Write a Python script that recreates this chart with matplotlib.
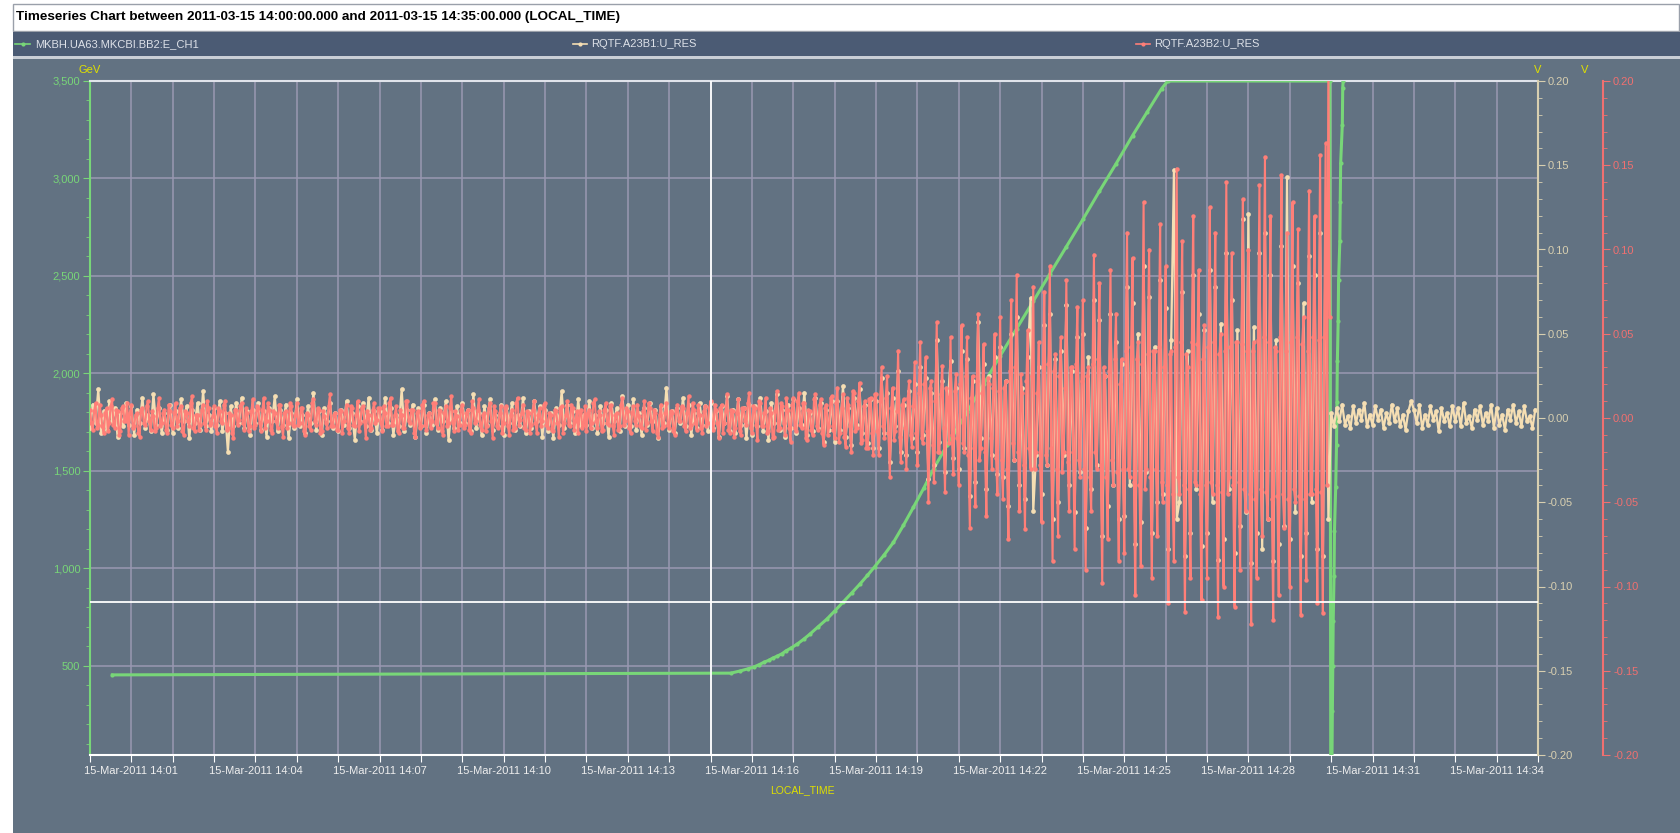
import numpy as np
import pandas as pd
import matplotlib
matplotlib.use("Agg")
import matplotlib.pyplot as plt
from matplotlib.ticker import MultipleLocator, FuncFormatter
from matplotlib.patches import Rectangle
from matplotlib.lines import Line2D
from matplotlib.transforms import blended_transform_factory
import matplotlib.dates as mdates

plt.rcParams['font.family'] = ['Liberation Sans', 'DejaVu Sans']

title = "Timeseries Chart between 2011-03-15 14:00:00.000 and 2011-03-15 14:35:00.000 (LOCAL_TIME)"
names = ["MKBH.UA63.MKCBI.BB2:E_CH1", "RQTF.A23B1:U_RES", "RQTF.A23B2:U_RES"]
t_start = pd.Timestamp("2011-03-15 14:00:00")
t_end = pd.Timestamp("2011-03-15 14:35:00")

# beam energy, minutes after 14:00 / GeV
e_min = [0.54, 15.49, 15.71, 15.90, 16.05, 16.18, 16.29, 16.41, 16.50, 16.61, 16.73, 16.82, 16.94,
         17.10, 17.25, 17.40, 17.60, 17.81, 18.01, 18.21, 18.41, 18.61, 18.79, 18.97, 19.20, 19.42,
         19.66, 19.90, 20.15, 20.39, 20.71, 21.20, 21.60, 22.00, 22.40, 22.80, 23.20, 23.60, 24.00,
         24.40, 24.80, 25.20, 25.55, 25.90, 26.05, 29.97, 29.99, 30.02, 30.03, 30.04, 30.05, 30.07,
         30.08, 30.11, 30.13, 30.14, 30.15, 30.17, 30.18, 30.21, 30.22, 30.23, 30.27, 30.28, 30.29]
e_gev = [453, 462, 473, 484, 494, 506, 518, 528, 539, 549, 562, 576, 590,
         612, 636, 662, 700, 739, 783, 828, 873, 919, 963, 1009, 1070, 1133,
         1220, 1312, 1410, 1510, 1630, 1800, 1945, 2090, 2230, 2370, 2510, 2650, 2790,
         2935, 3075, 3220, 3340, 3460, 3500, 3500, 20, 20, 270, 500, 732, 962,
         1190, 1415, 1635, 1851, 2061, 2269, 2477, 2680, 2880, 3079, 3275, 3466, 3500]

# RQTF.A23B2:U_RES, one sample every 2 s from 14:00:00, mV, one row per minute
b2_mv = [
    [5, -3, -7, 4, 9, -6, -4, 8, 2, -5, -9, 3, 6, -8, -3, 7, 11, -4, -6, 5, 4, -10, -8, 6, 7, -2, -2, 9, -10, 3],
    [8, -6, -5, 2, 3, -9, -11, 5, 6, -3, -4, 7, 10, -2, -7, 4, 1, -8, -6, 6, 12, -5, -3, 3, 5, -7, -9, 8, 4, -4],
    [-6, 3, 9, -5, -2, 6, 7, -8, -10, 4, 3, -2, -5, 9, 13, -6, -8, 2, 2, -7, -4, 5, 8, -3, -7, 10, 6, -4, -3, 1],
    [7, -5, -9, 6, 4, -2, -3, 8, 10, -7, -6, 3, 2, -9, -12, 5, 5, -4, -1, 7, 9, -3, -7, 6, 3, -8, -5, 4, 11, -6],
    [-4, 7, 6, -3, -8, 5, 12, -6, -2, 9, 5, -7, -9, 4, 3, -2, -6, 8, 8, -5, -11, 3, 4, -6, -3, 9, 7, -4, -5, 2],
    [9, -4, -3, 6, 6, -8, -10, 3, 2, -5, -7, 9, 11, -2, -4, 6, 5, -9, -8, 4, 1, -3, -6, 7, 14, -5, -5, 2, 3, -7],
    [-7, 5, 4, -9, -2, 3, 8, -6, -9, 7, 6, -4, -5, 2, 10, -8, -3, 6, 7, -2, -12, 4, 2, -7, -6, 5, 9, -3, -1, 6],
    [6, -3, -8, 7, 3, -5, -5, 9, 12, -4, -4, 2, 7, -8, -9, 5, 2, -6, -6, 10, 10, -2, -3, 5, 5, -9, -11, 3, 4, -6],
    [-5, 8, 10, -4, -7, 2, 3, -6, -2, 9, 9, -3, -6, 5, 4, -8, -10, 3, 7, -5, -3, 6, 13, -2, -8, 4, 1, -7, -4, 5],
    [8, -6, -4, 3, 5, -7, -9, 10, 6, -3, -2, 5, 11, -4, -7, 2, 3, -8, -5, 6, 9, -2, -12, 7, 4, -5, -6, 3, 7, -9],
    [-3, 6, 7, -5, -10, 2, 5, -7, -6, 9, 12, -4, -1, 3, 8, -6, -7, 4, 3, -9, -4, 5, 10, -3, -9, 2, 6, -5, -2, 8],
    [9, -4, -6, 3, 2, -7, -8, 5, 4, -3, -11, 6, 7, -9, -3, 2, 10, -4, -5, 8, 6, -7, -2, 4, -9, 3, 5, -6, -4, 7],
    [-8, 3, 5, -6, -3, 9, 11, -2, -6, 4, 2, -8, -7, 5, 9, -3, -4, 7, 8, -5, -10, 2, 3, -7, -5, 8, 12, -4, -2, 6],
    [4, -6, -9, 3, 7, -2, -4, 8, 1, -5, -6, 4, 10, -7, -3, 9, 6, -2, -8, 5, 3, -9, -11, 2, 8, -6, -5, 3, 9, -4],
    [-6, 4, 3, -8, -10, 5, 8, -2, -2, 7, 6, -5, -8, 3, 13, -6, -4, 9, 5, -3, -7, 8, 2, -6, -9, 4, 7, -5, -3, 6],
    [10, -5, -7, 8, 5, -3, -12, 6, 8, -9, -3, 4, 14, -7, -9, 5, 4, -11, -6, 3, 11, -8, -10, 6, 6, -2, -4, 9, 15, -6],
    [-9, 7, 6, -4, -13, 10, 9, -5, -5, 3, 12, -9, -8, 6, 3, -12, -11, 4, 16, -7, -6, 9, 7, -3, -10, 12, 5, -6, -14, 8],
    [12, -6, -8, 10, 15, -4, -6, 9, 9, -12, -13, 5, 4, -7, -10, 11, 14, -5, -7, 8, 11, -9, -16, 6, 8, -10, -5, 12, 13, -7],
    [-12, 9, 18, -14, -9, 6, 14, -11, -17, 12, 8, -5, -20, 16, 15, -8, -6, 10, 21, -15, -13, 7, 10, -18, -18, 11, 12, -9, -22, 14],
    [14, -8, -22, 10, 30, -5, -12, 12, 25, -9, -35, 6, 18, -13, -8, 4, 40, -11, -26, 8, 11, -6, -30, 12, 22, -10, -17, 7, 33, -9],
    [-28, 15, 45, -12, -15, 20, 36, -8, -50, 18, 22, -16, -38, 10, 57, -20, -20, 14, 31, -6, -44, 18, 12, -15, 48, -10, -33, 16, 26, -12],
    [-40, 20, 55, -15, -20, 25, 48, -22, -65, 12, 25, -18, -52, 22, 62, -25, -18, 15, 44, -20, -58, 24, 20, -12, -30, 18, 50, -24, -45, 16],
    [60, -25, -48, 18, 22, -30, -72, 28, 70, -15, -25, 30, 85, -20, -55, 26, 15, -28, -66, 22, 52, -18, -30, 25, 78, -30, -20, 15, 45, -28],
    [-62, 30, 75, -22, -28, 32, 90, -18, -85, 28, 38, -30, -70, 25, 48, -32, -20, 18, 82, -26, -55, 30, 30, -20, -78, 32, 66, -25, -35, 22],
    [70, -30, -90, 25, 30, -35, -55, 32, 97, -20, -30, 35, 80, -28, -98, 30, 25, -35, -72, 28, 88, -25, -40, 35, 62, -32, -85, 20, 35, -30],
    [-80, 40, 110, -30, -35, 42, 95, -38, -105, 35, 45, -40, -88, 32, 128, -42, -30, 38, 100, -35, -95, 40, 40, -30, -70, 42, 115, -38, -50, 30],
    [90, -40, -110, 38, 40, -45, -85, 42, 148, -35, -45, 45, 105, -40, -115, 38, 30, -42, -95, 45, 120, -38, -40, 44, 88, -45, -108, 35, 55, -40],
    [-95, 42, 125, -38, -45, 45, 110, -40, -118, 38, 50, -44, -100, 40, 140, -45, -35, 42, 98, -40, -112, 45, 45, -38, -90, 44, 130, -42, -55, 40],
    [100, -45, -122, 40, 45, -48, -95, 46, 138, -42, -70, 48, 155, -44, -60, 45, 120, -48, -120, 42, 40, -46, -105, 48, 144, -45, -65, 40, 110, -48],
    [-100, 45, 128, -42, -50, 48, 112, -46, -117, 44, 60, -48, -96, 40, 135, -45, -45, 48, 120, -42, -110, 46, 156, -44, -116, 48, 163, -40, 215, 60],
]
# RQTF.A23B1:U_RES, one sample every 4 s from 14:00:00, mV, one row per minute
b1_mv = [
    [-6, 8, -3, 17, -9, 4, -7, 10, -2, 6, -11, 3, -5, 9, -4],
    [7, -10, 5, -3, 12, -6, 2, -8, 14, -4, 6, -9, 3, -7, 8],
    [-9, 4, -6, 11, -2, 7, -12, 5, -3, 9, -7, 16, -5, 2, -8],
    [6, -4, 10, -8, 3, -20, 7, -5, 9, -3, 12, -6, 4, -10, 5],
    [-3, 9, -7, 4, -11, 6, -2, 13, -8, 5, -4, 8, -12, 3, -6],
    [11, -5, 2, -9, 7, -3, 15, -7, 4, -10, 6, -2, 9, -6, 3],
    [-8, 5, -4, 10, -6, 3, -13, 7, -2, 9, -5, 12, -7, 4, -9],
    [4, -7, 12, -3, 6, -10, 2, -5, 17, -8, 5, -4, 8, -11, 6],
    [-5, 8, -9, 3, -4, 11, -7, 6, -2, 10, -13, 4, -6, 7, -3],
    [9, -3, 5, -8, 14, -6, 3, -10, 7, -4, 11, -7, 2, -5, 8],
    [-10, 6, -3, 9, -7, 2, -5, 12, -9, 4, -6, 10, -2, 7, -11],
    [5, -8, 3, -12, 6, -4, 16, -6, 8, -3, 4, -9, 11, -5, 2],
    [-4, 10, -6, 2, -9, 7, -3, 5, -11, 9, -2, 6, -8, 13, -5],
    [8, -5, 11, -7, 3, -10, 6, -4, 9, -2, 5, -12, 7, -3, 18],
    [-7, 4, -9, 6, -3, 12, -5, 8, -10, 3, -6, 9, -4, 7, -8],
    [9, -6, 4, -11, 7, -3, 13, -8, 5, -9, 11, -4, 6, -12, 8],
    [-10, 7, -5, 12, -8, 4, -13, 9, -3, 14, -7, 5, -11, 8, -6],
    [11, -9, 6, -4, 15, -10, 3, -8, 12, -6, 9, -14, 5, -7, 10],
    [-14, 10, -7, 19, -11, 6, -16, 12, -4, 17, -9, 8, -15, 11, -18],
    [10, -18, 24, -9, 15, -26, 12, -5, 28, -20, 8, -22, 16, -12, 20],
    [-20, 30, -10, 24, -36, 15, -28, 46, -14, 22, -32, 9, 34, -24, 18],
    [-30, 40, -18, 35, -46, 22, -38, 57, -12, 32, -42, 25, -22, 36, -33],
    [42, -35, 22, -52, 50, -25, 60, -40, 18, -48, 36, 71, -55, -22, 30],
    [-45, 55, -28, 62, -60, 35, -50, 40, -22, 67, -40, 28, -56, 48, -32],
    [50, -65, 36, -42, 70, -28, 58, -70, 25, -52, 62, -40, 45, -60, 32],
    [-58, 78, -40, 68, -75, 50, -62, 90, -32, 72, -68, 42, -50, 82, -45],
    [65, -78, 46, 147, -60, -50, 75, -82, 40, -68, 85, -42, 62, -76, 52],
    [-68, 88, -50, 78, -84, 56, -72, 98, -42, 70, -80, 52, -64, 118, -56],
    [121, -86, 54, -68, 98, -78, 110, -60, 85, -85, 46, -75, 102, -64, 143],
    [-72, 90, -56, 80, -82, 68, -68, 96, -50, 85, -78, 110, -82, 115, -60],
    [3, -5, 6, -2, 8, -4, 1, -6, 7, -3, 5, -1, 9, -5, 2],
    [-4, 7, -1, 5, -6, 3, -3, 8, -2, 6, -5, 2, -7, 4, 10],
    [5, -3, 8, -6, 2, -4, 7, -1, 4, -8, 6, -2, 3, -5, 7],
    [-2, 6, -5, 9, -3, 1, -6, 5, -1, 7, -4, 3, -2, 8, -6],
    [6, -4, 2, -7, 5, -1, 8, -3, 4, -5, 7, -2, 1, -6, 5],
]

# crosshair left on the chart
cross_time = pd.Timestamp("2011-03-15 14:15:00")
cross_gev = 828

# colours
SLATE = '#627282'
BAR = '#4b5b74'
GREEN = '#78d678'
WHEAT = '#f5deb3'
SALMON = '#ff7f78'
YELLOW = '#e0e000'
GRID = '#9a98b2'

b2 = np.concatenate(b2_mv) / 1000
b1 = np.concatenate(b1_mv) / 1000
b2_t = t_start + pd.Timedelta(seconds=2) * np.arange(len(b2))
b1_t = t_start + pd.Timedelta(seconds=4) * np.arange(len(b1))
e_t = t_start + pd.to_timedelta(e_min, unit='min')

W, H = 1680, 833
fig = plt.figure(figsize=(W / 100, H / 100), dpi=100, facecolor=SLATE)


def box(x, y, w, h, fc, ec='none'):
    # pixels from the top left corner
    fig.add_artist(Rectangle((x / W, 1 - (y + h) / H), w / W, h / H, transform=fig.transFigure,
                             facecolor=fc, edgecolor=ec, lw=1, zorder=0))


box(0, 0, W, 31, 'white')
box(0, 0, 13, H, 'white')
box(13, 4, W - 14, 27, 'white', '#9aa0aa')
box(13, 32, W - 13, 24, BAR)
box(13, 56, W - 13, 3, '#c9ced6')

fig.text(16 / W, 1 - 17 / H, title, fontsize=9.7, fontweight='bold', color='black', va='center')

# legend strip
ly = 1 - 44 / H
for (x0, x1, xt), c, n in zip([(15, 30, 35), (573, 587, 591), (1136, 1150, 1154)],
                              [GREEN, WHEAT, SALMON], names):
    fig.add_artist(Line2D([x0 / W, x1 / W], [ly, ly], transform=fig.transFigure, color=c, lw=1.2))
    fig.add_artist(Line2D([(x0 + x1) / 2 / W], [ly], transform=fig.transFigure, color=c,
                          marker='o', ms=3, mew=0))
    fig.text(xt / W, ly, n, fontsize=8, color='#dde1e8', va='center')

ax = fig.add_axes([90 / W, 1 - 755 / H, 1448 / W, 674 / H])
ax.set_facecolor(SLATE)
ax.plot(e_t, e_gev, color=GREEN, lw=2.2, marker='o', ms=3, mew=0, zorder=3)

ax_b1 = ax.twinx()
ax_b2 = ax.twinx()
ax_b2.spines['right'].set_position(('outward', 47))
ax_b1.plot(b1_t, b1, color=WHEAT, lw=1.6, marker='o', ms=3.4, mew=0)
ax_b2.plot(b2_t, b2, color=SALMON, lw=1.5, marker='o', ms=3.2, mew=0)

ax_b2.axvline(cross_time, color='white', lw=1.3, zorder=5)
ax_b2.plot([0, 1], [cross_gev, cross_gev], color='white', lw=1.3, zorder=5,
           transform=blended_transform_factory(ax_b2.transAxes, ax.transData))

ax.set_xlim(t_start, t_end)
ax.set_ylim(42, 3500)
ax_b1.set_ylim(-0.2, 0.2)
ax_b2.set_ylim(-0.2, 0.2)

ax.xaxis.set_major_locator(mdates.MinuteLocator(interval=1))
ax.xaxis.set_major_formatter(FuncFormatter(
    lambda v, p: mdates.num2date(v).strftime('%d-%b-%Y %H:%M')
    if mdates.num2date(v).minute % 3 == 1 else ''))
ax.yaxis.set_major_locator(MultipleLocator(500))
ax.yaxis.set_minor_locator(MultipleLocator(100))
ax.yaxis.set_major_formatter(FuncFormatter(lambda v, p: f"{v:,.0f}"))
for a in (ax_b1, ax_b2):
    a.yaxis.set_major_locator(MultipleLocator(0.05))
    a.yaxis.set_minor_locator(MultipleLocator(0.01))
    a.yaxis.set_major_formatter(FuncFormatter(lambda v, p: '%.2f' % (round(v, 2) + 0.0)))
    a.patch.set_visible(False)
    for s in ('left', 'top', 'bottom'):
        a.spines[s].set_visible(False)

ax.grid(True, which='major', color=GRID, lw=1.1)
ax.set_axisbelow(True)

ax.spines['left'].set_color(GREEN)
ax.spines['left'].set_linewidth(1.5)
ax.spines['right'].set_visible(False)
ax.spines['top'].set_color('#dfe3ea')
ax.spines['top'].set_linewidth(1.5)
ax.spines['bottom'].set_color('white')
ax.spines['bottom'].set_linewidth(1.5)
ax_b1.spines['right'].set_color('#d8cfb0')
ax_b1.spines['right'].set_linewidth(1.5)
ax_b2.spines['right'].set_color('#f07070')
ax_b2.spines['right'].set_linewidth(1.5)

ax.tick_params(axis='x', colors='white', labelcolor='#eeeeee', labelsize=8, length=5, pad=3)
ax.tick_params(axis='y', which='major', colors=GREEN, labelsize=8, length=5, pad=2)
ax.tick_params(axis='y', which='minor', colors=GREEN, length=3)
ax_b1.tick_params(axis='y', which='major', colors='#d8cfb0', labelsize=8, length=5, pad=2)
ax_b1.tick_params(axis='y', which='minor', colors='#d8cfb0', length=3)
ax_b2.tick_params(axis='y', which='major', colors='#f07070', labelsize=8, length=5, pad=2)
ax_b2.tick_params(axis='y', which='minor', colors='#f07070', length=3)

ax.text(0, 1 + 11 / 674, 'GeV', transform=ax.transAxes, ha='center', va='center', color=YELLOW, fontsize=8)
ax.text(1, 1 + 11 / 674, 'V', transform=ax.transAxes, ha='center', va='center', color=YELLOW, fontsize=8)
ax.text(1 + 47 / 1448, 1 + 11 / 674, 'V', transform=ax.transAxes, ha='center', va='center',
        color=YELLOW, fontsize=8)
fig.text(802 / W, 1 - 790 / H, 'LOCAL_TIME', color=YELLOW, fontsize=7.5, ha='center', va='center')

fig.savefig('out.png', dpi=100, facecolor=SLATE)
